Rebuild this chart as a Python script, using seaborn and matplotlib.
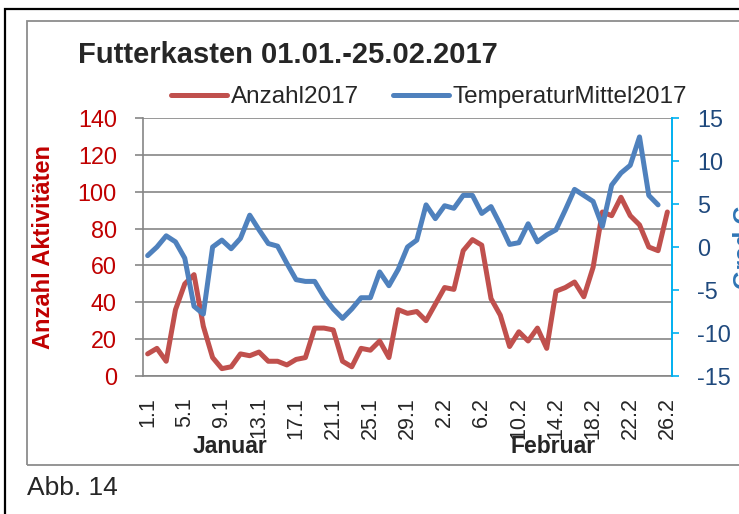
import numpy as np
import pandas as pd
import matplotlib
matplotlib.use("Agg")
import matplotlib.pyplot as plt
from matplotlib.patches import Rectangle
import seaborn as sns

sns.set_style("white")
plt.rcParams["font.family"] = ["Liberation Sans", "DejaVu Sans"]
plt.rcParams["axes.unicode_minus"] = False
NARROW = ["Liberation Sans Narrow", "Liberation Sans", "DejaVu Sans"]

# categories: 1.1 ... 31.1, 1.2 ... 26.2
days = [f"{d}.1" for d in range(1, 32)] + [f"{d}.2" for d in range(1, 27)]
tick_labels = ["1.1", "5.1", "9.1", "13.1", "17.1", "21.1", "25.1", "29.1",
               "2.2", "6.2", "10.2", "14.2", "18.2", "22.2", "26.2"]
months = ["Januar", "Februar"]

# Anzahl Aktivitaeten (left axis), one value per day
anzahl = [12, 15, 8, 36, 50, 55, 27, 10, 4, 5,
          12, 11, 13, 8, 8, 6, 9, 10, 26, 26,
          25, 8, 5, 15, 14, 19, 10, 36, 34, 35,
          30, 39, 48, 47, 68, 74, 71, 42, 33, 16,
          24, 19, 26, 15, 46, 48, 51, 43, 59, 89,
          87, 97, 87, 82, 70, 68, 89]

# mittlere Temperatur (right axis), ends at 25.2
temperatur = [-1.0, 0.0, 1.3, 0.6, -1.3, -6.9, -7.8, 0.0, 0.8, -0.2,
              1.0, 3.7, 2.0, 0.4, 0.1, -1.9, -3.8, -4.0, -4.0, -5.8,
              -7.2, -8.3, -7.2, -5.9, -5.9, -2.9, -4.5, -2.6, 0.0, 0.8,
              4.9, 3.3, 4.8, 4.5, 6.0, 6.0, 3.9, 4.7, 2.6, 0.3,
              0.5, 2.7, 0.6, 1.4, 2.0, 4.3, 6.7, 6.0, 5.3, 2.4,
              7.2, 8.6, 9.5, 12.8, 6.0, 4.9]

RED = "#C0504D"
BLUE = "#4F81BD"
GRID = "#868686"

df_a = pd.DataFrame({"pos": np.arange(len(anzahl)), "wert": anzahl})
df_t = pd.DataFrame({"pos": np.arange(len(temperatur)), "wert": temperatur})

fig = plt.figure(figsize=(7.39, 5.14), dpi=100)
ax = fig.add_axes([143 / 739, 138 / 514, 529 / 739, 258 / 514])
ax2 = ax.twinx()

sns.lineplot(data=df_a, x="pos", y="wert", ax=ax, color=RED, lw=3.6, legend=False)
sns.lineplot(data=df_t, x="pos", y="wert", ax=ax2, color=BLUE, lw=3.6, legend=False)
for ln in ax.lines + ax2.lines:
    ln.set_solid_capstyle("round")
    ln.set_solid_joinstyle("round")

# x axis
ax.set_xlim(-0.5, len(days) - 0.5)
ax.set_xticks(np.arange(0, len(days), 4))
ax.set_xticklabels(tick_labels, rotation=90, fontsize=15.5)
ax.set_xticks(np.arange(-0.5, len(days), 1), minor=True)
ax.tick_params(axis="x", which="major", length=0, pad=15)
ax.tick_params(axis="x", which="minor", length=6.5, width=1.2, color=GRID, direction="out")
ax.set_xlabel("")

# left axis
ax.set_ylim(0, 140)
ax.set_yticks(np.arange(0, 141, 20))
ax.tick_params(axis="y", length=5.8, width=1.2, color=GRID, labelcolor="#C00000",
               labelsize=16.8, pad=13, left=True)
ax.yaxis.grid(True, color=GRID, lw=1.2)
ax.set_ylabel("Anzahl Aktivitäten", color="#C00000", fontweight="bold",
              fontsize=17, family=NARROW)
ax.yaxis.set_label_coords(-0.166, 0.5)

# right axis
ax2.set_ylim(-15, 15)
ax2.set_yticks(np.arange(-15, 16, 5))
ax2.tick_params(axis="y", length=5, width=1.2, color="#00B0F0", labelcolor="#1F497D",
                labelsize=16.8, pad=13, right=True)
ax2.set_ylabel("Grad C", color="#2F75B5", fontweight="bold", fontsize=18,
               family=NARROW, rotation=90)
ax2.yaxis.set_label_coords(1.115, 0.5)
ax2.set_xlabel("")

for s in ["top", "right"]:
    ax.spines[s].set_visible(False)
for s in ["left", "bottom"]:
    ax.spines[s].set_color(GRID)
    ax.spines[s].set_linewidth(1.2)
for s in ["top", "left", "bottom"]:
    ax2.spines[s].set_visible(False)
ax2.spines["right"].set_color("#00B0F0")
ax2.spines["right"].set_linewidth(1.4)

# month group labels
ax.text(0.1645, -0.275, months[0], transform=ax.transAxes, ha="center", va="center",
        fontsize=16.5, fontweight="bold", family=NARROW)
ax.text(0.775, -0.275, months[1], transform=ax.transAxes, ha="center", va="center",
        fontsize=16.5, fontweight="bold", family=NARROW)

# legend
handles = [ax.lines[0], ax2.lines[0]]
fig.legend(handles, ["Anzahl2017", "TemperaturMittel2017"], loc="center",
           bbox_to_anchor=(0.5805, 1 - 97 / 514), ncol=2, frameon=False,
           fontsize=17.5, handlelength=2.3, handletextpad=0.15, columnspacing=1.4)

fig.text(78 / 739, 1 - 55 / 514, "Futterkasten 01.01.-25.02.2017", fontsize=21,
         fontweight="bold", family=NARROW, va="center", ha="left")
fig.text(27 / 739, 1 - 488 / 514, "Abb. 14", fontsize=19, va="center", ha="left")

# frames around chart
fig.add_artist(Rectangle((5 / 739, -0.2), 1.5, 1.2 - 9 / 514, transform=fig.transFigure,
                         fill=False, ec="black", lw=1.6))
fig.add_artist(Rectangle((27 / 739, 1 - 465 / 514), 1.5, (465 - 21) / 514,
                         transform=fig.transFigure, fill=False, ec="#8C8C8C", lw=1.3))

fig.savefig("out.png", dpi=100, facecolor="white")
